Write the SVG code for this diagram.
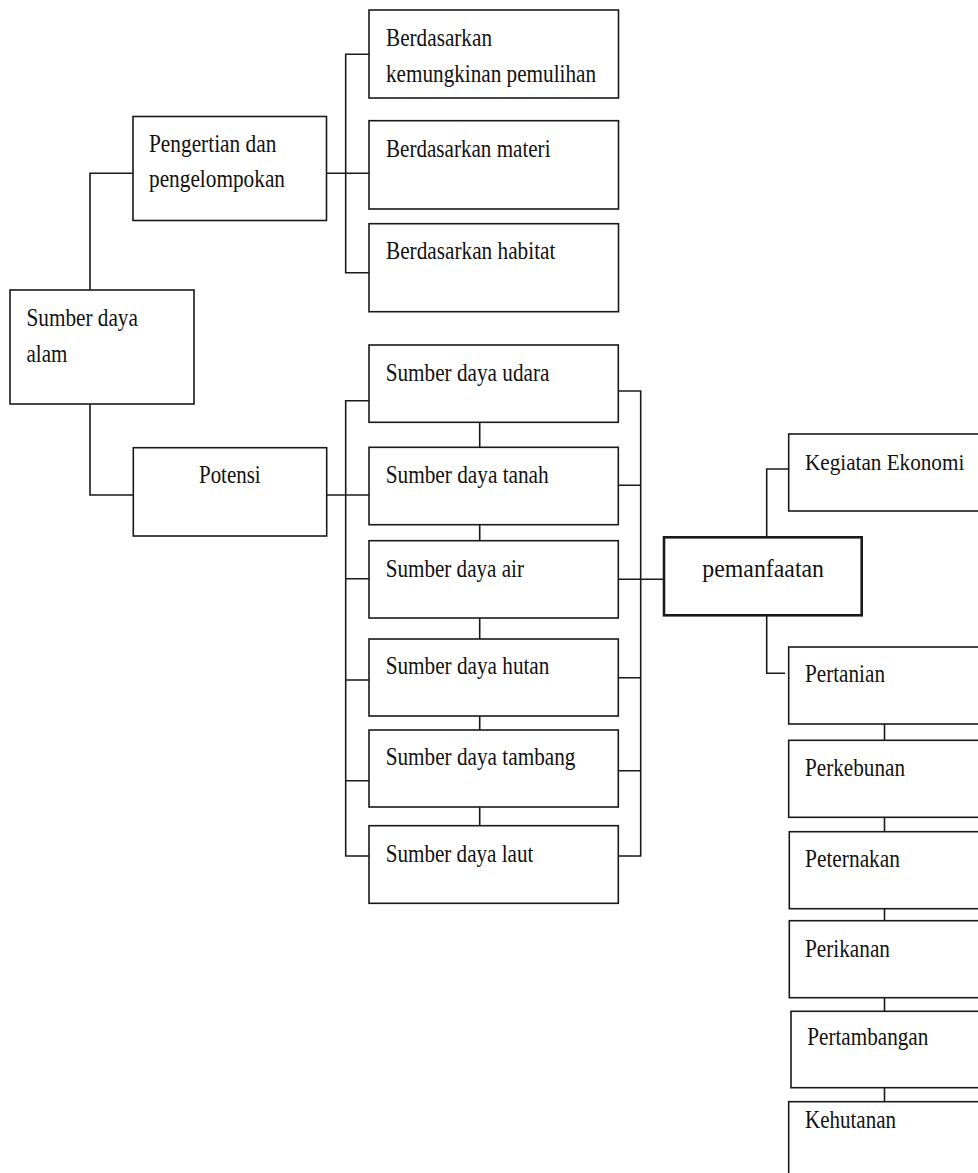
<svg xmlns="http://www.w3.org/2000/svg" width="978" height="1173" viewBox="0 0 978 1173">
<style>
  .box { fill: #ffffff; stroke: #1a1a1a; stroke-width: 1.6; }
  .bold { stroke-width: 2.6; }
  .lbl { font-family: "Liberation Serif", "Times New Roman", serif; font-size: 26px; fill: #111111; }
  .sm { font-size: 22.5px; }
  .con { fill: none; stroke: #1a1a1a; stroke-width: 1.6; }
</style>
<rect x="0" y="0" width="978" height="1173" fill="#ffffff"/>
<g id="connectors">
  <path class="con" d="M90,290 V173.3 H133"/>
  <path class="con" d="M90,404 V495 H133.3"/>
  <path class="con" d="M326.5,173.3 H369"/>
  <path class="con" d="M369,54.3 H345.7 V272.7 H369"/>
  <path class="con" d="M326.7,495 H369"/>
  <path class="con" d="M369,400.7 H345.7 V856 H369"/>
  <path class="con" d="M345.7,578.7 H369 M345.7,680 H369 M345.7,780.7 H369"/>
  <path class="con" d="M479.7,422.3 V447.3 M479.7,524.7 V540.7 M479.7,618 V639 M479.7,716 V730 M479.7,807 V825.7"/>
  <path class="con" d="M618.3,391 H640.7 V856 H618.3"/>
  <path class="con" d="M618.3,485.3 H640.7 M618.3,677.7 H640.7 M618.3,770.7 H640.7"/>
  <path class="con" d="M618.3,579.3 H664"/>
  <path class="con" d="M766.7,537.3 V469 H788.7"/>
  <path class="con" d="M766.7,615.3 V673.3 H785"/>
  <path class="con" d="M884.5,724 V740.3 M884.5,817.3 V831.7 M884.5,908.7 V920.7 M884.5,997.7 V1011.3 M884.5,1087.7 V1101.7"/>
</g>
<g id="sumber-daya-alam">
  <rect class="box" x="10" y="290" width="184" height="114"/>
  <text class="lbl" x="26.5" y="326" textLength="111.4" lengthAdjust="spacingAndGlyphs">Sumber daya</text>
  <text class="lbl" x="26.5" y="361.7" textLength="40.8" lengthAdjust="spacingAndGlyphs">alam</text>
</g>
<g id="pengertian">
  <rect class="box" x="133" y="116.5" width="193.5" height="104"/>
  <text class="lbl" x="149" y="152.3" textLength="127.3" lengthAdjust="spacingAndGlyphs">Pengertian dan</text>
  <text class="lbl" x="149" y="187.3" textLength="136" lengthAdjust="spacingAndGlyphs">pengelompokan</text>
</g>
<g id="berdasarkan-pemulihan">
  <rect class="box" x="369" y="10" width="249.5" height="88"/>
  <text class="lbl" x="386" y="45.5" textLength="106" lengthAdjust="spacingAndGlyphs">Berdasarkan</text>
  <text class="lbl" x="386" y="81.7" textLength="210" lengthAdjust="spacingAndGlyphs">kemungkinan pemulihan</text>
</g>
<g id="berdasarkan-materi">
  <rect class="box" x="369" y="120.7" width="249.5" height="88.3"/>
  <text class="lbl" x="386" y="156.7" textLength="164.5" lengthAdjust="spacingAndGlyphs">Berdasarkan materi</text>
</g>
<g id="berdasarkan-habitat">
  <rect class="box" x="369" y="223.7" width="249.5" height="88"/>
  <text class="lbl" x="386" y="259.3" textLength="169.4" lengthAdjust="spacingAndGlyphs">Berdasarkan habitat</text>
</g>
<g id="potensi">
  <rect class="box" x="133.3" y="447.7" width="193.4" height="88.3"/>
  <text class="lbl" x="199" y="483.3" textLength="61.7" lengthAdjust="spacingAndGlyphs">Potensi</text>
</g>
<g id="sd-udara">
  <rect class="box" x="369" y="345" width="249.3" height="77.3"/>
  <text class="lbl" x="385.7" y="380.7" textLength="163.7" lengthAdjust="spacingAndGlyphs">Sumber daya udara</text>
</g>
<g id="sd-tanah">
  <rect class="box" x="369" y="447.3" width="249.3" height="77.4"/>
  <text class="lbl" x="385.7" y="482.7" textLength="163" lengthAdjust="spacingAndGlyphs">Sumber daya tanah</text>
</g>
<g id="sd-air">
  <rect class="box" x="369" y="540.7" width="249.3" height="77.3"/>
  <text class="lbl" x="385.7" y="576.7" textLength="138.3" lengthAdjust="spacingAndGlyphs">Sumber daya air</text>
</g>
<g id="sd-hutan">
  <rect class="box" x="369" y="639" width="249.3" height="77"/>
  <text class="lbl" x="385.7" y="674.3" textLength="163.7" lengthAdjust="spacingAndGlyphs">Sumber daya hutan</text>
</g>
<g id="sd-tambang">
  <rect class="box" x="369" y="730" width="249.3" height="77"/>
  <text class="lbl" x="385.7" y="765" textLength="189.7" lengthAdjust="spacingAndGlyphs">Sumber daya tambang</text>
</g>
<g id="sd-laut">
  <rect class="box" x="369" y="825.7" width="249.3" height="77.6"/>
  <text class="lbl" x="385.7" y="861.7" textLength="147.7" lengthAdjust="spacingAndGlyphs">Sumber daya laut</text>
</g>
<g id="pemanfaatan">
  <rect class="box bold" x="664" y="537.3" width="197.7" height="78"/>
  <text class="lbl" x="702.3" y="576.7" textLength="121.7" lengthAdjust="spacingAndGlyphs">pemanfaatan</text>
</g>
<g id="kegiatan-ekonomi">
  <rect class="box" x="788.7" y="434" width="191.3" height="77"/>
  <text class="lbl sm" x="805" y="470" textLength="159.3" lengthAdjust="spacingAndGlyphs">Kegiatan Ekonomi</text>
</g>
<g id="pertanian">
  <rect class="box" x="788.7" y="647" width="191.3" height="77"/>
  <text class="lbl" x="805" y="681.7" textLength="80" lengthAdjust="spacingAndGlyphs">Pertanian</text>
</g>
<g id="perkebunan">
  <rect class="box" x="788.7" y="740.3" width="191.3" height="77"/>
  <text class="lbl" x="805" y="776" textLength="100" lengthAdjust="spacingAndGlyphs">Perkebunan</text>
</g>
<g id="peternakan">
  <rect class="box" x="789.3" y="831.7" width="190.7" height="77"/>
  <text class="lbl" x="805" y="866.7" textLength="95" lengthAdjust="spacingAndGlyphs">Peternakan</text>
</g>
<g id="perikanan">
  <rect class="box" x="789.3" y="920.7" width="190.7" height="77"/>
  <text class="lbl" x="805" y="956.7" textLength="85" lengthAdjust="spacingAndGlyphs">Perikanan</text>
</g>
<g id="pertambangan">
  <rect class="box" x="791" y="1011.3" width="189" height="76.4"/>
  <text class="lbl" x="807.3" y="1045" textLength="121" lengthAdjust="spacingAndGlyphs">Pertambangan</text>
</g>
<g id="kehutanan">
  <rect class="box" x="788.7" y="1101.7" width="191.3" height="90"/>
  <text class="lbl" x="805" y="1128.3" textLength="91" lengthAdjust="spacingAndGlyphs">Kehutanan</text>
</g>
</svg>
